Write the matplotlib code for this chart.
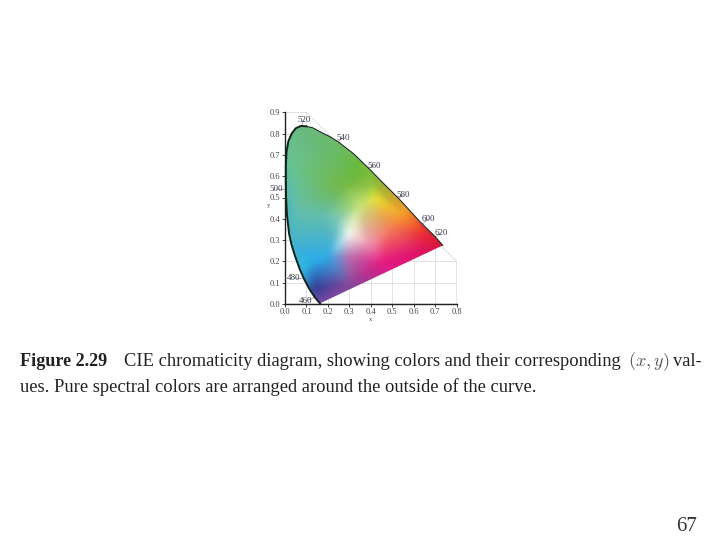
import numpy as np
import matplotlib
matplotlib.use('Agg')
import matplotlib.pyplot as plt
from matplotlib.patches import Polygon
import matplotlib.tri as mtri

# spectral curve
locus_x = [0.163, 0.140, 0.116, 0.090, 0.070, 0.045, 0.030, 0.019, 0.009, 0.005, 0.004, 0.004, 0.007, 0.016, 0.031, 0.050, 0.074, 0.100, 0.130, 0.170, 0.210, 0.250, 0.320, 0.390, 0.460, 0.530, 0.630, 0.700, 0.735]
locus_y = [0.003, 0.030, 0.066, 0.115, 0.160, 0.230, 0.280, 0.330, 0.420, 0.500, 0.570, 0.650, 0.715, 0.765, 0.800, 0.825, 0.836, 0.834, 0.827, 0.805, 0.785, 0.760, 0.705, 0.637, 0.565, 0.495, 0.385, 0.316, 0.275]

# colours sampled at some places inside the curve
col_x = [0.08, 0.03, 0.05, 0.20, 0.27, 0.33, 0.40, 0.43, 0.55, 0.65, 0.73, 0.45, 0.30, 0.17, 0.14, 0.12, 0.30, 0.40, 0.18, 0.25, 0.60, 0.03, 0.50, 0.20, 0.30, 0.35, 0.30]
col_y = [0.82, 0.65, 0.45, 0.70, 0.55, 0.62, 0.58, 0.50, 0.42, 0.33, 0.27, 0.19, 0.09, 0.02, 0.07, 0.20, 0.33, 0.28, 0.42, 0.40, 0.24, 0.30, 0.36, 0.22, 0.22, 0.46, 0.45]
col_r = [105, 105, 100, 105, 115, 105, 130, 232, 245, 232, 215, 230, 135, 110, 50, 40, 245, 240, 100, 125, 225, 70, 245, 50, 185, 200, 160]
col_g = [185, 195, 190, 185, 185, 185, 190, 226, 160, 45, 20, 25, 70, 70, 60, 175, 250, 140, 190, 200, 20, 180, 125, 170, 110, 225, 210]
col_b = [130, 145, 170, 110, 70, 60, 60, 50, 40, 50, 60, 130, 155, 165, 150, 235, 240, 170, 170, 180, 110, 205, 80, 230, 175, 120, 130]

tick_x = [0.0, 0.1, 0.2, 0.3, 0.4, 0.5, 0.6, 0.7, 0.8]
tick_y = [0.0, 0.1, 0.2, 0.3, 0.4, 0.5, 0.6, 0.7, 0.8, 0.9]

wl_labels = ['520', '540', '560', '580', '600', '620', '500', '480', '460']
wl_x = [0.087, 0.272, 0.416, 0.553, 0.668, 0.730, -0.043, 0.039, 0.098]
wl_y = [0.864, 0.780, 0.649, 0.512, 0.399, 0.335, 0.538, 0.123, 0.015]
wl_tx = [0.078, 0.245, 0.390, 0.528, 0.640, 0.700, 0.004, 0.085, 0.135]
wl_ty = [0.836, 0.762, 0.637, 0.496, 0.376, 0.316, 0.538, 0.118, 0.030]

plt.rcParams['font.family'] = ['Liberation Serif', 'DejaVu Serif']
W, H = 720, 540
fig = plt.figure(figsize=(W/100, H/100), dpi=100)

ax = fig.add_axes([285/W, 1-304/H, (456.7-285)/W, (304-112.3)/H])
ax.set_xlim(0, 0.8)
ax.set_ylim(0, 0.9)

# pale grid, only in the corner shape behind the diagram
bound = Polygon([(0, 0), (0.8, 0), (0.8, 0.2), (0.1, 0.9), (0, 0.9)], closed=True, fc='none', ec='#dcdcdc', lw=0.6, transform=ax.transData)
ax.add_patch(bound)
grid = []
for v in tick_x:
    l, = ax.plot([v, v], [0, 0.9], color='#dedede', lw=0.6, zorder=1)
    grid.append(l)
for v in tick_y:
    l, = ax.plot([0, 0.8], [v, v], color='#dedede', lw=0.6, zorder=1)
    grid.append(l)
for l in grid:
    l.set_clip_path(bound)

# colour fill, blurred so the triangles don't show
ext_x = [-0.1, 0.9, 0.9, -0.1, 0.45]
ext_y = [-0.1, -0.1, 1.0, 1.0, 0.95]
ext = [[105, 190, 160], [150, 50, 150], [220, 20, 60], [105, 185, 130], [130, 190, 80]]
tri = mtri.Triangulation(col_x + ext_x, col_y + ext_y)
gx, gy = np.meshgrid(np.linspace(0, 0.8, 320), np.linspace(0, 0.9, 360))
k = np.ones(11) / 11


def blur(a):
    for i in range(2):
        p = np.pad(a, 5, mode='edge')
        a = np.apply_along_axis(lambda r: np.convolve(r, k, mode='valid'), 1, p)[5:-5]
        p = np.pad(a, 5, mode='edge')
        a = np.apply_along_axis(lambda r: np.convolve(r, k, mode='valid'), 0, p)[:, 5:-5]
    return a


rgb = []
for i, c in enumerate([col_r, col_g, col_b]):
    f = mtri.LinearTriInterpolator(tri, np.array(c + [e[i] for e in ext], float))
    rgb.append(blur(np.clip(f(gx, gy).filled(255), 0, 255)) / 255)
img = ax.imshow(np.dstack(rgb), origin='lower', extent=[0, 0.8, 0, 0.9], aspect='auto', interpolation='bilinear', zorder=2)
curve = Polygon(list(zip(locus_x, locus_y)), closed=True, transform=ax.transData, fc='none', ec='none')
ax.add_patch(curve)
img.set_clip_path(curve)

# spectral edge: heavy on the left, thin on the right, none on the purple line
ax.plot(locus_x[:18], locus_y[:18], color='#10241a', lw=1.4, zorder=3, clip_on=False)
ax.plot(locus_x[17:], locus_y[17:], color='#1c2e24', lw=0.8, zorder=3, clip_on=False)

for t, x, y, tx, ty in zip(wl_labels, wl_x, wl_y, wl_tx, wl_ty):
    ax.plot([x, tx], [y, ty], color='#777777', lw=0.4, zorder=1, clip_on=False)
    ax.text(x, y, t, fontsize=6.5, color='#3a3a4a', ha='center', va='center', zorder=4)

for s in ['top', 'right']:
    ax.spines[s].set_visible(False)
for s in ['left', 'bottom']:
    ax.spines[s].set_linewidth(1.0)
    ax.spines[s].set_color('#222222')
ax.set_xticks(tick_x)
ax.set_yticks(tick_y)
ax.set_xticklabels(['%.1f' % v for v in tick_x], fontsize=6, color='#444444')
ax.set_yticklabels(['%.1f' % v for v in tick_y], fontsize=6, color='#444444')
ax.tick_params(length=2, width=0.6, pad=1.2, color='#222222')
ax.set_xlabel('x', fontsize=5, labelpad=0.5, color='#444444')
ax.set_ylabel('y', fontsize=5, labelpad=1, rotation=0, color='#444444')

# caption text goes in pixel coords
fig.text(20/W, 1-366/H, 'Figure 2.29', fontsize=13.1, fontweight='bold', color='#222222', va='baseline')
fig.text(124/W, 1-366/H, 'CIE chromaticity diagram, showing colors and their corresponding', fontsize=13.35, color='#222222', va='baseline')
fig.text(628/W, 1-366/H, r'$(x,y)$', fontsize=13, math_fontfamily='cm', color='#555555', va='baseline')
fig.text(673/W, 1-366/H, 'val-', fontsize=13.35, color='#222222', va='baseline')
fig.text(20/W, 1-392/H, 'ues. Pure spectral colors are arranged around the outside of the curve.', fontsize=13.35, color='#222222', va='baseline')
fig.text(687/W, 1-531/H, '67', fontsize=15, color='#333333', ha='center', va='baseline')

fig.savefig('out.png', dpi=100)
